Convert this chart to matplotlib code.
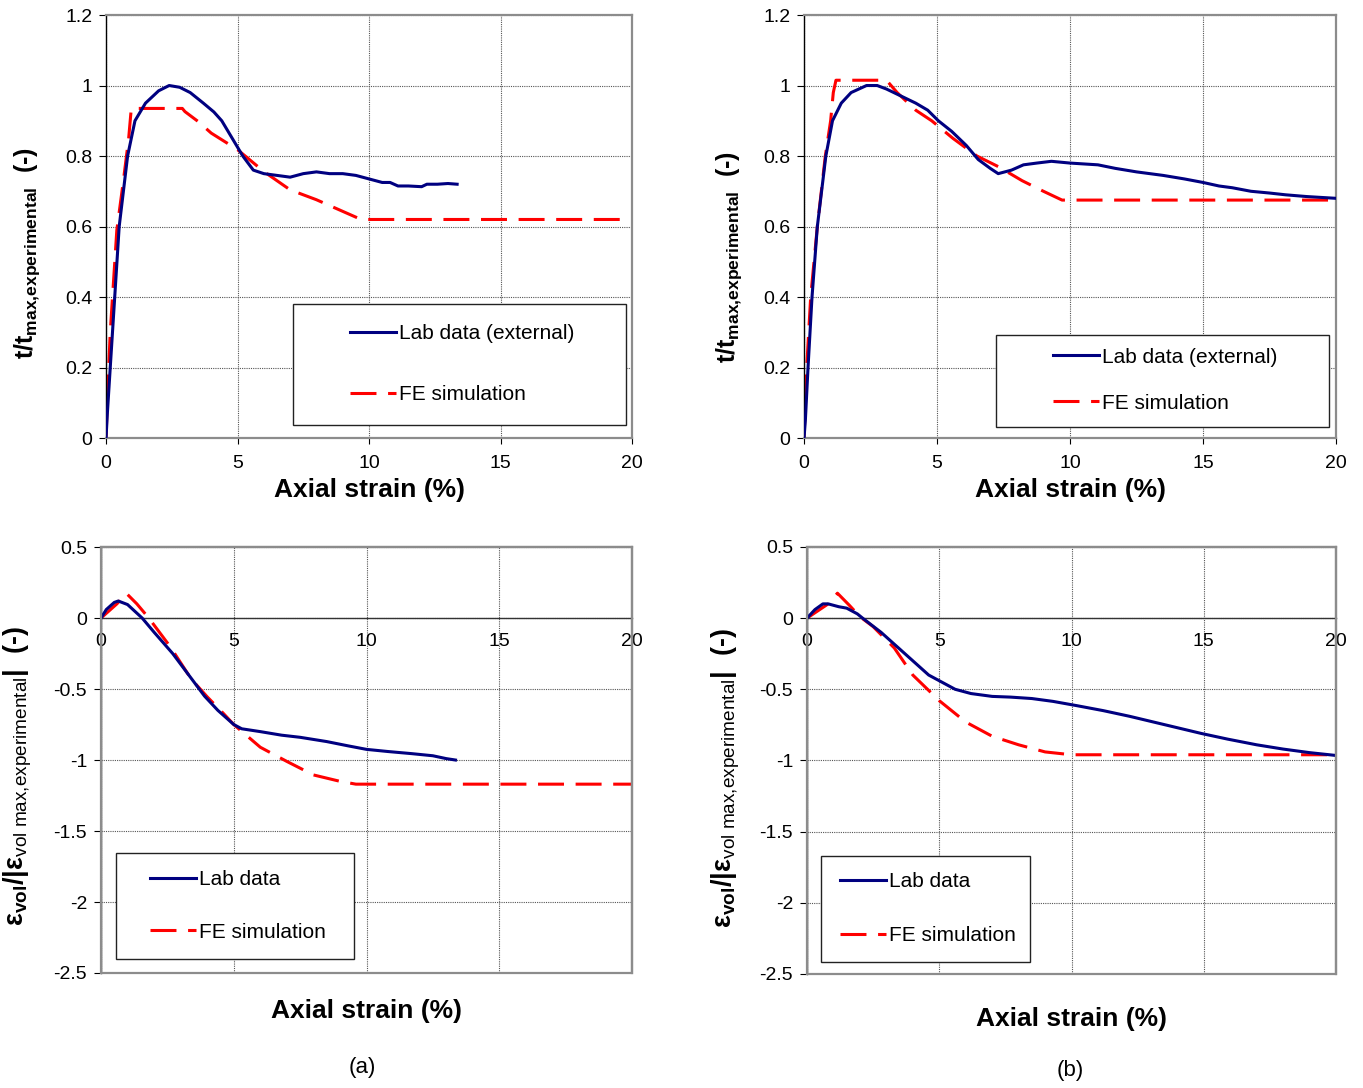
import matplotlib
matplotlib.use("Agg")
import matplotlib.pyplot as plt
from matplotlib.patches import Rectangle
from matplotlib.ticker import FuncFormatter, MultipleLocator

plt.rcParams['font.family'] = ['Liberation Sans', 'DejaVu Sans']
plt.rcParams['mathtext.fontset'] = 'custom'
plt.rcParams['mathtext.rm'] = 'Liberation Sans'
plt.rcParams['mathtext.bf'] = 'Liberation Sans:bold'
plt.rcParams['mathtext.it'] = 'Liberation Sans:italic'
plt.rcParams['axes.unicode_minus'] = False

# ---------------- data ----------------
# (a) top: t / t_max
a_top_lab_x = [0, 0.05, 0.16, 0.33, 0.5, 0.82, 1.1, 1.5, 2.0, 2.4, 2.8, 3.2, 3.7, 4.1, 4.4, 4.8, 5.2,
               5.6, 6.0, 6.5, 7.0, 7.5, 8.0, 8.5, 9.0, 9.5, 10.0, 10.5, 10.8, 11.1, 11.5, 12.0, 12.2,
               12.6, 13.0, 13.35]
a_top_lab_y = [0, 0.07, 0.2, 0.4, 0.6, 0.8, 0.9, 0.95, 0.985, 1.0, 0.995, 0.98, 0.95, 0.925, 0.9, 0.85,
               0.8, 0.76, 0.75, 0.745, 0.74, 0.75, 0.755, 0.75, 0.75, 0.745, 0.735, 0.725, 0.725, 0.715,
               0.715, 0.713, 0.72, 0.72, 0.722, 0.72]
a_top_fe_x = [0, 0.05, 0.16, 0.41, 0.66, 0.86, 0.96, 2.9, 3.0, 3.5, 4.0, 5.0, 6.0, 7.0, 8.0, 9.0, 9.7, 20]
a_top_fe_y = [0, 0.11, 0.3, 0.59, 0.73, 0.85, 0.935, 0.935, 0.926, 0.898, 0.865, 0.818, 0.756, 0.704,
              0.676, 0.643, 0.62, 0.62]

# (b) top: t / t_max
b_top_lab_x = [0, 0.05, 0.15, 0.3, 0.5, 0.82, 1.07, 1.4, 1.77, 2.35, 2.75, 3.1, 3.65, 4.2, 4.65, 5.05,
               5.55, 6.1, 6.55, 7.0, 7.3, 7.8, 8.25, 8.75, 9.3, 10.0, 11.05, 11.7, 12.5, 13.5, 14.3,
               15.0, 15.6, 16.1, 16.8, 17.5, 18.1, 18.9, 20]
b_top_lab_y = [0, 0.05, 0.2, 0.4, 0.6, 0.8, 0.9, 0.95, 0.98, 1.0, 1.0, 0.99, 0.97, 0.95, 0.93, 0.9,
               0.87, 0.83, 0.79, 0.765, 0.75, 0.76, 0.775, 0.78, 0.785, 0.78, 0.775, 0.765, 0.755,
               0.745, 0.735, 0.725, 0.715, 0.71, 0.70, 0.695, 0.69, 0.685, 0.68]
b_top_fe_x = [0, 0.1, 0.25, 0.5, 0.8, 1.0, 1.1, 1.2, 3.1, 3.5, 4.2, 4.8, 5.6, 6.5, 7.3, 8.2, 9.0, 9.7, 20]
b_top_fe_y = [0, 0.2, 0.4, 0.6, 0.8, 0.9, 0.98, 1.015, 1.015, 0.98, 0.93, 0.9, 0.85, 0.8, 0.77, 0.73,
              0.7, 0.675, 0.675]

# (a) bottom: eps_vol / |eps_vol max|
a_bot_lab_x = [0, 0.2, 0.5, 0.65, 1.0, 1.55, 2.0, 2.7, 3.3, 3.9, 4.4, 5.0, 5.3, 6.0, 6.8, 7.5, 8.5,
               9.3, 10.0, 10.8, 11.7, 12.5, 13.0, 13.35]
a_bot_lab_y = [0, 0.06, 0.11, 0.12, 0.095, 0, -0.1, -0.25, -0.4, -0.55, -0.65, -0.75, -0.78, -0.8,
               -0.825, -0.84, -0.87, -0.9, -0.925, -0.94, -0.955, -0.97, -0.99, -1.0]
a_bot_fe_x = [0, 0.3, 0.6, 0.95, 1.35, 1.8, 2.6, 3.4, 4.0, 4.6, 5.0, 6.0, 7.0, 8.0, 9.0, 9.6, 20]
a_bot_fe_y = [0, 0.05, 0.1, 0.175, 0.1, 0, -0.2, -0.43, -0.555, -0.67, -0.75, -0.91, -1.01, -1.105,
              -1.15, -1.17, -1.17]

# (b) bottom: eps_vol / |eps_vol max|
b_bot_lab_x = [0, 0.3, 0.6, 0.8, 1.2, 1.5, 1.9, 2.1, 2.8, 3.4, 4.0, 4.6, 5.1, 5.6, 6.2, 7.0, 7.7, 8.5,
               9.3, 10.2, 11.2, 12.2, 13.1, 14.0, 14.9, 15.9, 17.0, 18.0, 19.0, 20]
b_bot_lab_y = [0, 0.06, 0.1, 0.1, 0.08, 0.07, 0.03, 0, -0.1, -0.2, -0.3, -0.4, -0.45, -0.5, -0.53,
               -0.55, -0.555, -0.565, -0.585, -0.615, -0.65, -0.69, -0.73, -0.77, -0.81, -0.85,
               -0.89, -0.92, -0.945, -0.965]
b_bot_fe_x = [0, 0.4, 0.8, 1.15, 1.6, 2.0, 2.5, 3.3, 4.0, 5.0, 6.0, 7.0, 8.0, 9.0, 10.0, 20]
b_bot_fe_y = [0, 0.05, 0.1, 0.175, 0.09, 0.01, -0.06, -0.21, -0.4, -0.58, -0.73, -0.83, -0.89, -0.94,
              -0.96, -0.96]

x_ticks = [0, 5, 10, 15, 20]
label_lab_top = "Lab data (external)"
label_lab_bot = "Lab data"
label_fe = "FE simulation"
xlabel = "Axial strain (%)"
ylabel_top = r"$\mathbf{t/t_{max{,}experimental}}$  (-)"
ylabel_bot = r"$\mathbf{ε_{vol}/|ε}_{\mathrm{vol\ max{,}experimental}}\mathbf{|}$  (-)"
captions = ["(a)", "(b)"]

BLUE = "#000080"
RED = "#ff0000"
GRID = "#555555"
FRAME = "#8c8c8c"

fig = plt.figure(figsize=(13.63, 10.88), dpi=100)

fmt = FuncFormatter(lambda v, p: f"{v:g}")


def style(ax, ymin, ymax, ystep, zero_axis):
    ax.set_xlim(0, 20)
    ax.set_ylim(ymin, ymax)
    ax.set_xticks(x_ticks)
    ax.yaxis.set_major_locator(MultipleLocator(ystep))
    ax.xaxis.set_major_formatter(fmt)
    ax.yaxis.set_major_formatter(fmt)
    ax.grid(True, color=GRID, linestyle=(0, (1, 1)), linewidth=0.8)
    ax.set_axisbelow(True)
    for s in ['top', 'right']:
        ax.spines[s].set_color(FRAME)
        ax.spines[s].set_linewidth(1.6)
    ax.spines['left'].set_color('black')
    ax.spines['left'].set_linewidth(1.0)
    ax.tick_params(axis='y', direction='out', length=5, width=0.8, pad=5, labelsize=14)
    if zero_axis:
        ax.spines['bottom'].set_position(('data', 0))
        ax.spines['bottom'].set_color('#333333')
        ax.spines['bottom'].set_linewidth(1.0)
        ax.tick_params(axis='x', length=0, pad=11, labelsize=14)
        ax.add_patch(Rectangle((0, 0), 1, 1, transform=ax.transAxes, fill=False,
                               ec=FRAME, lw=1.6, clip_on=False, zorder=3))
    else:
        ax.spines['bottom'].set_color(FRAME)
        ax.spines['bottom'].set_linewidth(1.6)
        ax.tick_params(axis='x', direction='out', length=4, width=0.8, pad=8, labelsize=14)


def legend_box(ax, box, hx, my, lab_label, spacing):
    x0, y0, x1, y1 = box
    ax.add_patch(Rectangle((x0, y0), x1 - x0, y1 - y0, transform=ax.transAxes,
                           fc='white', ec='#222222', lw=1.0, zorder=4))
    leg = ax.legend([ax.lines[0], ax.lines[1]], [lab_label, label_fe],
                    loc='center left', bbox_to_anchor=(hx, my), frameon=False,
                    borderpad=0, borderaxespad=0, handlelength=2.2, handletextpad=0.15,
                    labelspacing=spacing, fontsize=15)
    leg.set_zorder(5)


def plot_pair(ax, lx, ly, fx, fy):
    ax.plot(lx, ly, color=BLUE, lw=2.2, zorder=2.6)
    ax.plot(fx, fy, color=RED, lw=2.2, dashes=(8.5, 3.8), zorder=2.5)


# axes positions (figure fractions)
ax_a1 = fig.add_axes([0.0778, 0.5974, 0.3859, 0.3888])
ax_b1 = fig.add_axes([0.5899, 0.5974, 0.3903, 0.3888])
ax_a2 = fig.add_axes([0.0741, 0.1057, 0.3896, 0.3915])
ax_b2 = fig.add_axes([0.5921, 0.1048, 0.3881, 0.3925])

plot_pair(ax_a1, a_top_lab_x, a_top_lab_y, a_top_fe_x, a_top_fe_y)
plot_pair(ax_b1, b_top_lab_x, b_top_lab_y, b_top_fe_x, b_top_fe_y)
plot_pair(ax_a2, a_bot_lab_x, a_bot_lab_y, a_bot_fe_x, a_bot_fe_y)
plot_pair(ax_b2, b_bot_lab_x, b_bot_lab_y, b_bot_fe_x, b_bot_fe_y)

for ax in (ax_a1, ax_b1):
    style(ax, 0, 1.2, 0.2, False)
for ax in (ax_a2, ax_b2):
    style(ax, -2.5, 0.5, 0.5, True)

# axis labels
for ax, lc in ((ax_a1, (0.5, -0.095)), (ax_b1, (0.5, -0.095)), (ax_a2, (0.5, -0.062)), (ax_b2, (0.5, -0.077))):
    ax.set_xlabel(xlabel, fontsize=19, fontweight='bold')
    ax.xaxis.set_label_coords(*lc)

ax_a1.set_ylabel(ylabel_top, fontsize=18, fontweight='bold')
ax_a1.yaxis.set_label_coords(-0.122, 0.437)
ax_b1.set_ylabel(ylabel_top, fontsize=18, fontweight='bold')
ax_b1.yaxis.set_label_coords(-0.113, 0.428)
ax_a2.set_ylabel(ylabel_bot, fontsize=19.5, fontweight='bold')
ax_a2.yaxis.set_label_coords(-0.126, 0.462)
ax_b2.set_ylabel(ylabel_bot, fontsize=19.5, fontweight='bold')
ax_b2.yaxis.set_label_coords(-0.123, 0.459)

# legends
legend_box(ax_a1, (0.3555, 0.0307, 0.9886, 0.3168), 0.4639, 0.175, label_lab_top, 2.0)
legend_box(ax_b1, (0.3609, 0.026, 0.9868, 0.2435), 0.468, 0.137, label_lab_top, 1.3)
legend_box(ax_a2, (0.0282, 0.0329, 0.4765, 0.2817), 0.0923, 0.157, label_lab_bot, 1.6)
legend_box(ax_b2, (0.0265, 0.0281, 0.4216, 0.2763), 0.0624, 0.153, label_lab_bot, 1.65)

fig.text(0.2656, 0.0184, captions[0], ha='center', va='center', fontsize=16)
fig.text(0.785, 0.0165, captions[1], ha='center', va='center', fontsize=16)

fig.savefig("out.png", dpi=100)
